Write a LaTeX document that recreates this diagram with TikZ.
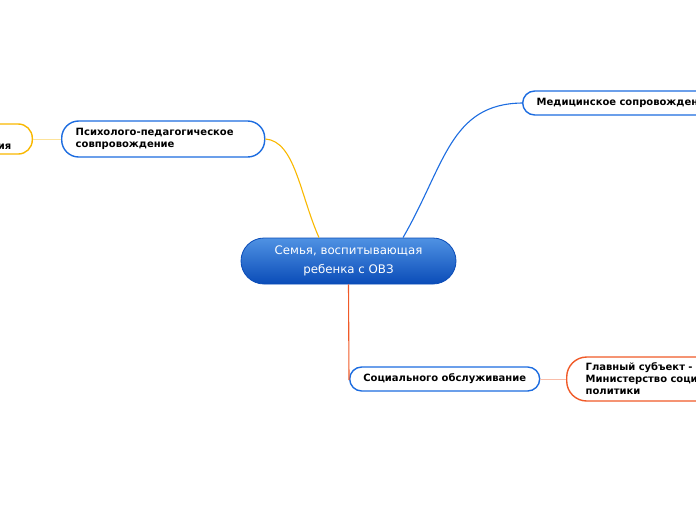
\documentclass[tikz,border=0pt]{standalone}
\usepackage{fontspec}
\setmainfont{DejaVu Sans}
\usetikzlibrary{calc}

\definecolor{mapblue}{HTML}{1C6CE0}
\definecolor{mapyellow}{HTML}{F9B800}
\definecolor{maporange}{HTML}{F05A28}
\definecolor{centtop}{HTML}{4F92E3}
\definecolor{centbot}{HTML}{0A4CB8}

\tikzset{
	topic/.style={draw=mapblue, line width=1.4pt, fill=white, rounded corners=12pt,
		align=left, font=\bfseries\fontsize{10}{12}\selectfont, inner xsep=14pt, inner ysep=0pt},
	subtopic/.style={topic, rounded corners=18pt},
	branch/.style={line width=1.1pt}
}

\begin{document}
\begin{tikzpicture}[x=1pt, y=-1pt]
	
	% Canvas of the mind map (outer nodes run over its edges)
	\useasboundingbox (0,0) rectangle (696,520);
	\clip (0,0) rectangle (696,520);
	
	% Central topic
	\node[rounded corners=23pt, draw=centbot, line width=0.8pt, top color=centtop, bottom color=centbot,
		minimum width=215pt, minimum height=46pt, text=white, align=center,
		font=\fontsize{11.8}{19}\selectfont] (family) at (348.5,261)
		{Семья, воспитывающая\\ребенка с ОВЗ};
	
	% Main topics
	\node[topic, anchor=west, text width=175pt, minimum height=36pt, rounded corners=17pt] (psych) at (61,139)
		{Психолого-педагогическое\\совпровождение};
	\node[topic, anchor=west, text width=230pt, minimum height=24pt] (med) at (522,103)
		{Медицинское сопровождение};
	\node[topic, anchor=west, minimum width=190pt, minimum height=24pt, inner xsep=12pt] (social) at (349,379)
		{Социального обслуживание};
	
	% Subtopics
	\node[subtopic, draw=mapyellow, anchor=east, text width=100pt, align=right, inner xsep=21pt,
		minimum height=30pt, rounded corners=14pt] (left) at (33,139)
		{\strut\\ия};
	\node[subtopic, draw=maporange, anchor=west, text width=220pt, inner xsep=19pt,
		minimum height=44pt, rounded corners=20pt] (chief) at (566,379)
		{Главный субъект -\\Министерство социальной\\политики};
	
	% Branches from the central topic
	\draw[branch, mapyellow] ([xshift=-29.5pt]family.north) .. controls (300,195) and (295,141) .. (psych.east);
	\draw[branch, mapblue] ([xshift=54.5pt]family.north) .. controls (445,165) and (450,104) .. (med.west);
	\draw[branch, maporange] (family.south) -- ([yshift=-1pt]social.west);
	
	% Links to subtopics
	\draw[mapyellow!40, line width=0.8pt] (left.east) -- (psych.west);
	\draw[maporange!40, line width=0.8pt] (social.east) -- (chief.west);
	
\end{tikzpicture}
\end{document}
